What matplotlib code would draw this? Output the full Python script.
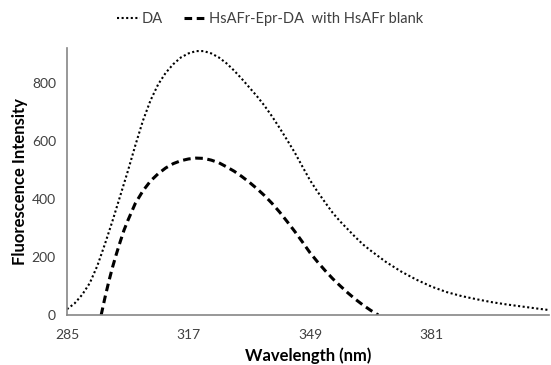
import numpy as np
import matplotlib
matplotlib.use('Agg')
import matplotlib.pyplot as plt

plt.rcParams['font.family'] = ['Lato', 'DejaVu Sans']

# ---- data ----
da_wl = [285, 287, 289, 291, 293, 295, 297, 299, 301, 303, 305, 307, 309, 311,
         313, 315, 317, 319, 321, 323, 325, 327, 329, 331, 333, 335, 337, 339,
         341, 343, 345, 347, 349, 351, 353, 355, 357, 359, 361, 363, 365, 369,
         373, 377, 381, 385, 389, 393, 397, 401, 405, 409, 412]
da_int = [20, 40, 70, 110, 170, 245, 325, 410, 495, 585, 670, 740, 795, 835,
          865, 888, 902, 910, 910, 902, 888, 868, 843, 815, 785, 755, 722, 685,
          645, 603, 560, 512, 465, 425, 388, 352, 322, 295, 268, 243, 222, 183,
          150, 122, 98, 79, 65, 54, 44, 36, 29, 22, 17]

cplx_wl = [294, 295, 296, 297, 298, 299, 300, 301, 303, 305, 307, 309, 311,
           313, 315, 317, 319, 321, 323, 325, 327, 329, 331, 333, 335, 337,
           339, 341, 343, 345, 347, 349, 351, 353, 355, 357, 359, 361, 363,
           365, 367]
cplx_int = [0, 60, 115, 165, 210, 252, 292, 325, 385, 428, 462, 487, 507,
            522, 532, 538, 541, 540, 534, 525, 511, 496, 478, 458, 436, 412,
            385, 355, 322, 288, 252, 215, 183, 153, 125, 100, 76, 54, 34,
            16, 0]

xticks = [285, 317, 349, 381]
yticks = [0, 200, 400, 600, 800]

fig = plt.figure(figsize=(5.51, 3.65), dpi=100)
ax = fig.add_axes([0.1216, 0.137, 0.875, 0.731])

ax.plot(da_wl, da_int, color='black', linestyle=(0, (1, 1.2)), linewidth=1.5,
        label='DA')
ax.plot(cplx_wl, cplx_int, color='black', linestyle=(0, (2.5, 1.5)), linewidth=2.2,
        label='HsAFr-Epr-DA  with HsAFr blank')

ax.set_xlim(285, 412)
ax.set_ylim(0, 920)
ax.set_xticks(xticks)
ax.set_yticks(yticks)
ax.tick_params(axis='both', length=0, labelsize=10, colors='#404040')
ax.tick_params(axis='x', pad=10)
ax.tick_params(axis='y', pad=8)

for s in ['top', 'right']:
    ax.spines[s].set_visible(False)
for s in ['left', 'bottom']:
    ax.spines[s].set_color('#868686')
    ax.spines[s].set_linewidth(1.2)

ax.set_xlabel('Wavelength (nm)', fontsize=12, fontweight='bold', labelpad=5)
ax.set_ylabel('Fluorescence Intensity', fontsize=12, fontweight='bold', labelpad=3)

fig.legend(loc='center', bbox_to_anchor=(0.49, 0.948), ncol=2, frameon=False,
           fontsize=10.5, handlelength=1.6, handletextpad=0.1, columnspacing=1.5,
           labelcolor='#404040')

fig.savefig('out.png', dpi=100)
